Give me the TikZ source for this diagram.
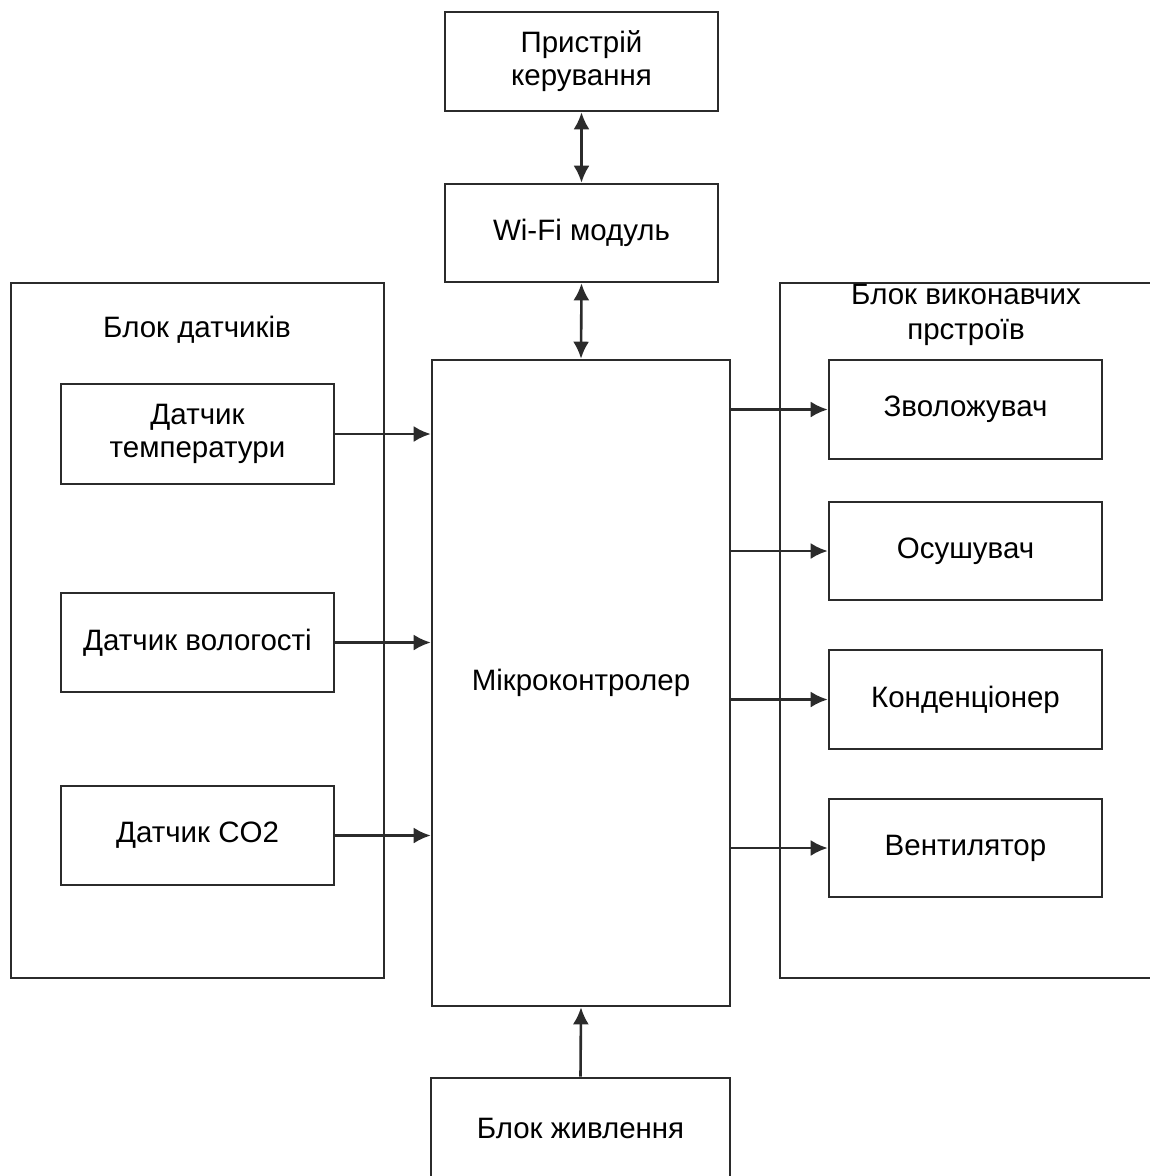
\documentclass[tikz,border=0pt]{standalone}
\usepackage{fontspec}
\setmainfont{Liberation Sans}
\usetikzlibrary{arrows.meta}
\definecolor{ln}{HTML}{2B2B2B}
\tikzset{
  box/.style={draw=ln, line width=2.6pt, fill=white, inner sep=0pt, anchor=center, align=center,
    font=\fontsize{29.5}{33}\selectfont},
  title/.style={inner sep=0pt, align=center, font=\fontsize{29.5}{35}\selectfont},
  arr/.style={draw=ln, line width=2.6pt, -{Latex[length=17pt,width=16pt]}},
  darr/.style={draw=ln, line width=2.6pt, {Latex[length=17pt,width=16pt]}-{Latex[length=17pt,width=16pt]}}
}
\begin{document}
\begin{tikzpicture}[x=1pt,y=-1pt]
\useasboundingbox (0,0) rectangle (1150,1176);
\clip (0,0) rectangle (1150,1176);
\fill[white] (0,0) rectangle (1150,1176);
% groups
\node[box, minimum width=373pt, minimum height=695pt] (gl) at (197.5,630.5) {};
\node[box, minimum width=374pt, minimum height=695pt] (gr) at (967,630.5) {};
\node[title] (tl) at (197,330) {Блок датчиків};
\node[title] (tr) at (966,315) {Блок виконавчих\\прстроїв};
% top
\node[box, minimum width=273pt, minimum height=99pt] (dev) at (581.5,61.5) {Пристрій\\керування};
\node[box, minimum width=273pt, minimum height=98pt] (wifi) at (581.5,233) {Wi-Fi модуль};
% MCU
\node[box, minimum width=298pt, minimum height=646pt] (mcu) at (581,683) {Мікроконтролер};
% sensors
\node[box, minimum width=273pt, minimum height=100pt] (temp) at (197.5,434) {Датчик\\температури};
\node[box, minimum width=273pt, minimum height=99pt] (hum) at (197.5,642.5) {Датчик вологості};
\node[box, minimum width=273pt, minimum height=99pt] (co2) at (197.5,835.5) {Датчик CO2};
% actuators
\node[box, minimum width=273pt, minimum height=99pt] (zv) at (965.5,409.5) {Зволожувач};
\node[box, minimum width=273pt, minimum height=98pt] (os) at (965.5,551) {Осушувач};
\node[box, minimum width=273pt, minimum height=99pt] (kond) at (965.5,699.5) {Конденціонер};
\node[box, minimum width=273pt, minimum height=98pt] (vent) at (965.5,848) {Вентилятор};
% power
\node[box, minimum width=299pt, minimum height=110pt] (pow) at (580.5,1133) {};
\node[title] (powt) at (580.5,1128) {Блок живлення};
% connectors
\draw[darr] (dev.south) -- (wifi.north);
\draw[darr] (wifi.south) -- (mcu.north);
\draw[arr] (temp.east) -- (temp.east -| mcu.west);
\draw[arr] (hum.east) -- (hum.east -| mcu.west);
\draw[arr] (co2.east) -- (co2.east -| mcu.west);
\draw[arr] (mcu.east |- zv.west) -- (zv.west);
\draw[arr] (mcu.east |- os.west) -- (os.west);
\draw[arr] (mcu.east |- kond.west) -- (kond.west);
\draw[arr] (mcu.east |- vent.west) -- (vent.west);
\draw[arr] (pow.north) -- (mcu.south);
\end{tikzpicture}
\end{document}
